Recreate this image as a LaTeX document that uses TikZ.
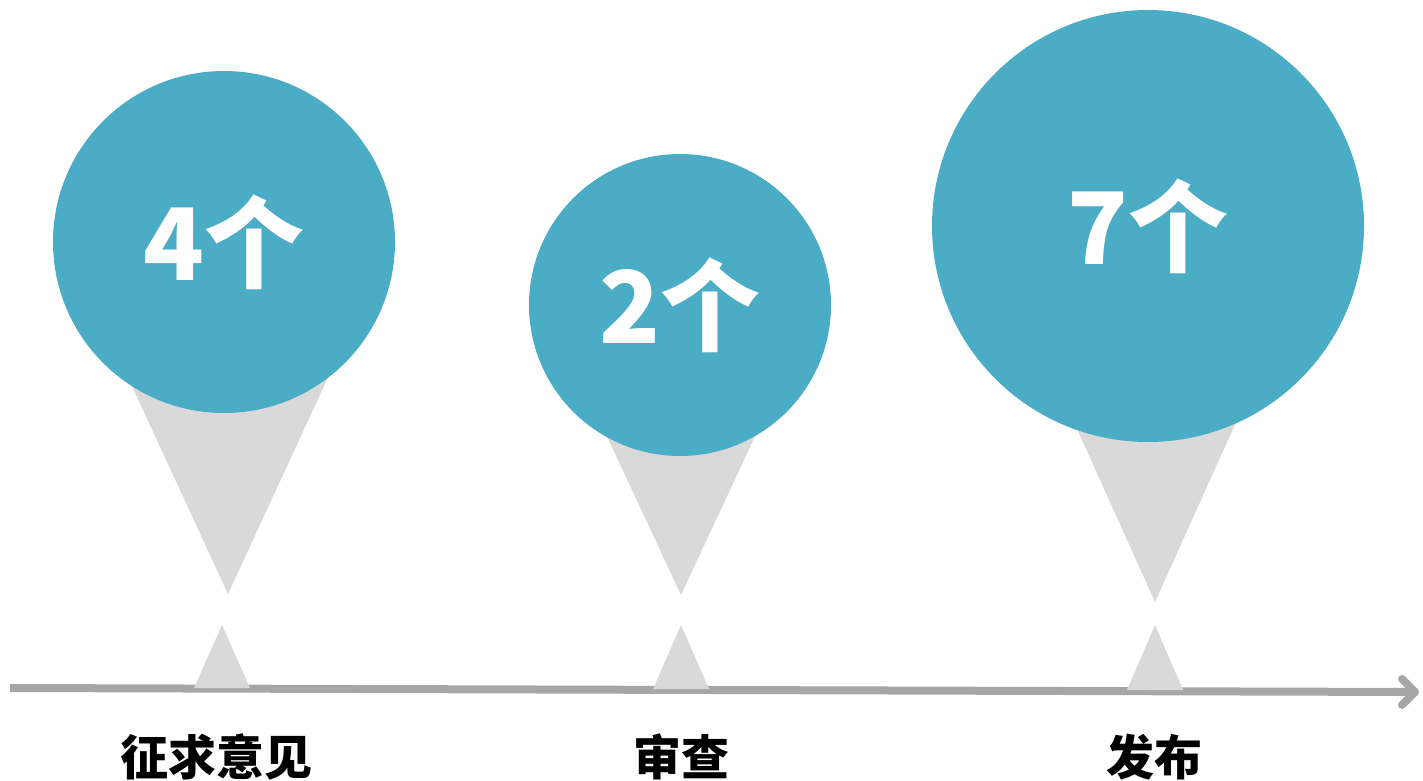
\documentclass[tikz,border=0pt]{standalone}
\usepackage{fontspec}
\setmainfont{Noto Sans CJK SC}
\usetikzlibrary{arrows.meta}
\definecolor{bubbleblue}{HTML}{4BACC6}
\definecolor{pingrey}{HTML}{D9D9D9}
\definecolor{axisgrey}{HTML}{A6A6A6}

\begin{document}
\begin{tikzpicture}[x=1pt, y=-1pt,
		bubble/.style = {circle, fill=bubbleblue, text=white, inner sep=0pt,
			font=\fontsize{100}{100}\selectfont\bfseries},
		pin/.style = {fill=pingrey},
		axis/.style = {draw=axisgrey, line width=8pt,
			-{Straight Barb[length=13pt,width=26pt,round]}},
		stage/.style = {font=\fontsize{48}{48}\selectfont\bfseries}]
	\useasboundingbox (0,0) rectangle (1423,781);
	% pins, under the bubbles
	\fill[pin] (106,330) -- (228,594) -- (350,330) -- cycle;
	\fill[pin] (590,400) -- (681,595) -- (772,400) -- cycle;
	\fill[pin] (1055,380) -- (1155,602) -- (1255,380) -- cycle;
	\node[bubble, minimum size=342pt] (four) at (224,242) {4个};
	\node[bubble, minimum size=302pt] (two) at (680,305) {2个};
	\node[bubble, minimum size=432pt] (seven) at (1148,226) {7个};
	% time line
	\coordinate (start) at (10,688);
	\coordinate (end) at (1419,692);
	\draw[axis] (start) -- (end);
	\fill[pin] (194,688) -- (222,625) -- (250,688) -- cycle;
	\fill[pin] (653,689) -- (681,625) -- (709,689) -- cycle;
	\fill[pin] (1127,690) -- (1155,625) -- (1183,690) -- cycle;
	\node[stage] (ask) at (216,757) {征求意见};
	\node[stage] (review) at (681,757) {审查};
	\node[stage] (publish) at (1154,757) {发布};
\end{tikzpicture}
\end{document}
